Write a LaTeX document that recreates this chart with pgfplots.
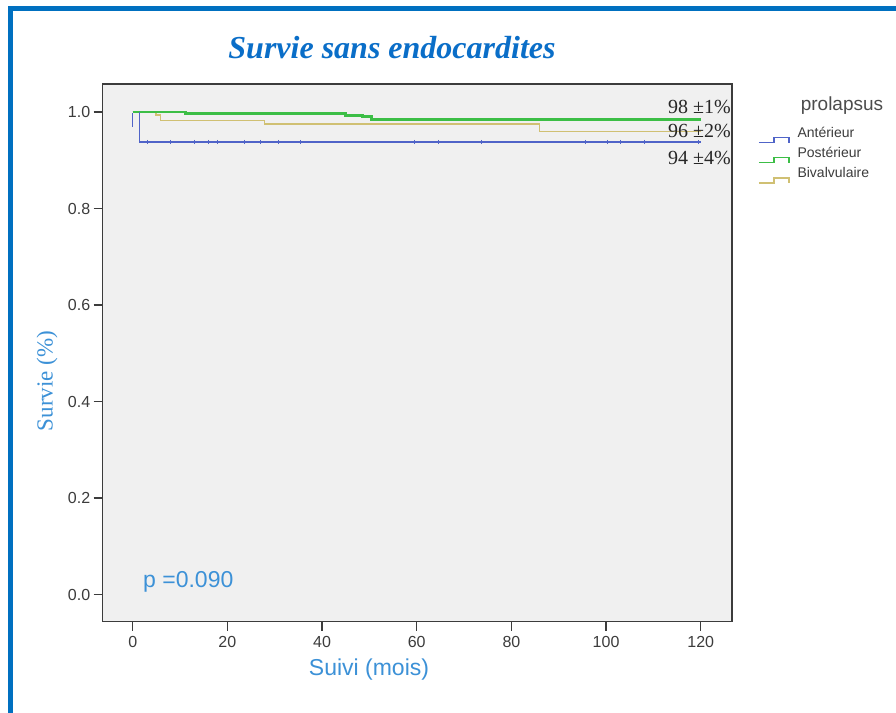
\documentclass[border=0pt]{standalone}
\usepackage{pgfplots}
\pgfplotsset{compat=1.18}
\usepackage{fontspec}
\setmainfont{Liberation Sans}
\newfontfamily\seriffont{Liberation Serif}
\definecolor{frameblue}{RGB}{0,112,192}
\definecolor{titleblue}{RGB}{10,110,200}
\definecolor{labblue}{RGB}{60,145,215}
\definecolor{kmblue}{RGB}{80,100,200}
\definecolor{kmgreen}{RGB}{60,190,70}
\definecolor{kmyellow}{RGB}{208,192,115}
\definecolor{tickgray}{RGB}{60,60,60}
\definecolor{axbg}{RGB}{240,240,240}
\begin{document}
\begin{tikzpicture}
\useasboundingbox (0,0) rectangle (896bp,713bp);
\begin{scope}
\clip (0,0) rectangle (896bp,713bp);
\fill[white] (0,0) rectangle (896bp,713bp);
\draw[line width=4.5bp, frameblue] (10.5bp,-20bp) -- (10.5bp,704.5bp) -- (920bp,704.5bp);
\end{scope}
\begin{axis}[
  scale only axis,
  width=629.3bp, height=537.7bp,
  at={(102.7bp,91.3bp)}, anchor=south west,
  xmin=-6.34, xmax=126.6,
  ymin=-0.056, ymax=1.058,
  axis background/.style={fill=axbg},
  axis line style={tickgray, line width=1.3bp},
  tick pos=left,
  tick align=outside,
  major tick length=9bp,
  every tick/.style={tickgray, line width=1.3bp},
  xtick={0,20,...,120},
  ytick={0,0.2,0.4,0.6,0.8,1.0},
  yticklabel style={/pgf/number format/fixed, /pgf/number format/fixed zerofill, /pgf/number format/precision=1},
  /pgf/number format/assume math mode=true,
  ticklabel style={font=\fontsize{16bp}{18bp}\selectfont, text=tickgray},
  xticklabel style={yshift=-2bp},
  reverse legend,
  legend style={at={(1.0366,0.924)}, anchor=north west, draw=none, fill=none,
    font=\fontsize{14bp}{16bp}\selectfont, text=tickgray,
    row sep=4bp, column sep=8bp,
    nodes={inner sep=0pt, text height=10bp, text depth=3bp}},
  legend cell align=left,
  legend image code/.code={\draw[#1, line width=1.3bp] (0bp,-9bp) -- (15bp,-9bp) -- (15bp,-4bp) -- (30bp,-4bp) -- (30bp,-9bp);},
]
% Bivalvulaire
\addplot[const plot, kmyellow, line width=1.3bp] coordinates {(0,1.0) (4.9,0.994) (5.8,0.983) (27.9,0.975) (86.0,0.959) (120,0.959)};
\addlegendentry{Bivalvulaire}
% Posterieur
\addplot[const plot, kmgreen, line width=2.8bp] coordinates {(0,1.0) (11.2,0.997) (45.0,0.993) (48.6,0.990) (50.5,0.985) (120,0.985)};
\addlegendentry{Postérieur}
% Anterieur
\addplot[const plot, kmblue, line width=1.3bp] coordinates {(1.4,1.0) (1.4,0.938) (120,0.938)};
\addlegendentry{Antérieur}
% initial blue step
\addplot[kmblue, line width=1.3bp, forget plot] coordinates {(0,0.997) (0,0.969)};
% censored marks (anterieur)
\addplot[only marks, mark=|, mark size=2bp, kmblue, mark options={line width=1bp}, forget plot] coordinates {
(3.2,0.938) (7.9,0.938) (13.1,0.938) (16,0.938) (18,0.938) (23.7,0.938) (26.9,0.938) (30.7,0.938) (35.5,0.938)
(59.6,0.938) (64.5,0.938) (73.6,0.938) (95.6,0.938) (100.4,0.938) (103.1,0.938) (108.2,0.938) (119.5,0.938)};
\end{axis}
% annotations
\node[anchor=east, inner sep=0pt, text=black!85, font=\seriffont\fontsize{20bp}{22bp}\selectfont] at (731bp,606bp) {98 ±1\%};
\node[anchor=east, inner sep=0pt, text=black!85, font=\seriffont\fontsize{20bp}{22bp}\selectfont] at (731bp,582bp) {96 ±2\%};
\node[anchor=east, inner sep=0pt, text=black!85, font=\seriffont\fontsize{20bp}{22bp}\selectfont] at (731bp,555bp) {94 ±4\%};
\node[anchor=west, inner sep=0pt, text=labblue, font=\fontsize{23bp}{25bp}\selectfont] at (143bp,131bp) {p =0.090};
% title and labels
\node[inner sep=0pt, text=titleblue, font=\seriffont\bfseries\itshape\fontsize{32bp}{35bp}\selectfont] at (392bp,665bp) {Survie sans endocardites};
\node[inner sep=0pt, rotate=90, text=labblue, font=\seriffont\fontsize{23bp}{25bp}\selectfont] at (47bp,332bp) {Survie (\%)};
\node[inner sep=0pt, text=labblue, font=\fontsize{23bp}{25bp}\selectfont] at (369bp,43bp) {Suivi (mois)};
\node[inner sep=0pt, text=black!70, font=\fontsize{19bp}{21bp}\selectfont] at (842bp,607bp) {prolapsus};
\end{tikzpicture}
\end{document}
